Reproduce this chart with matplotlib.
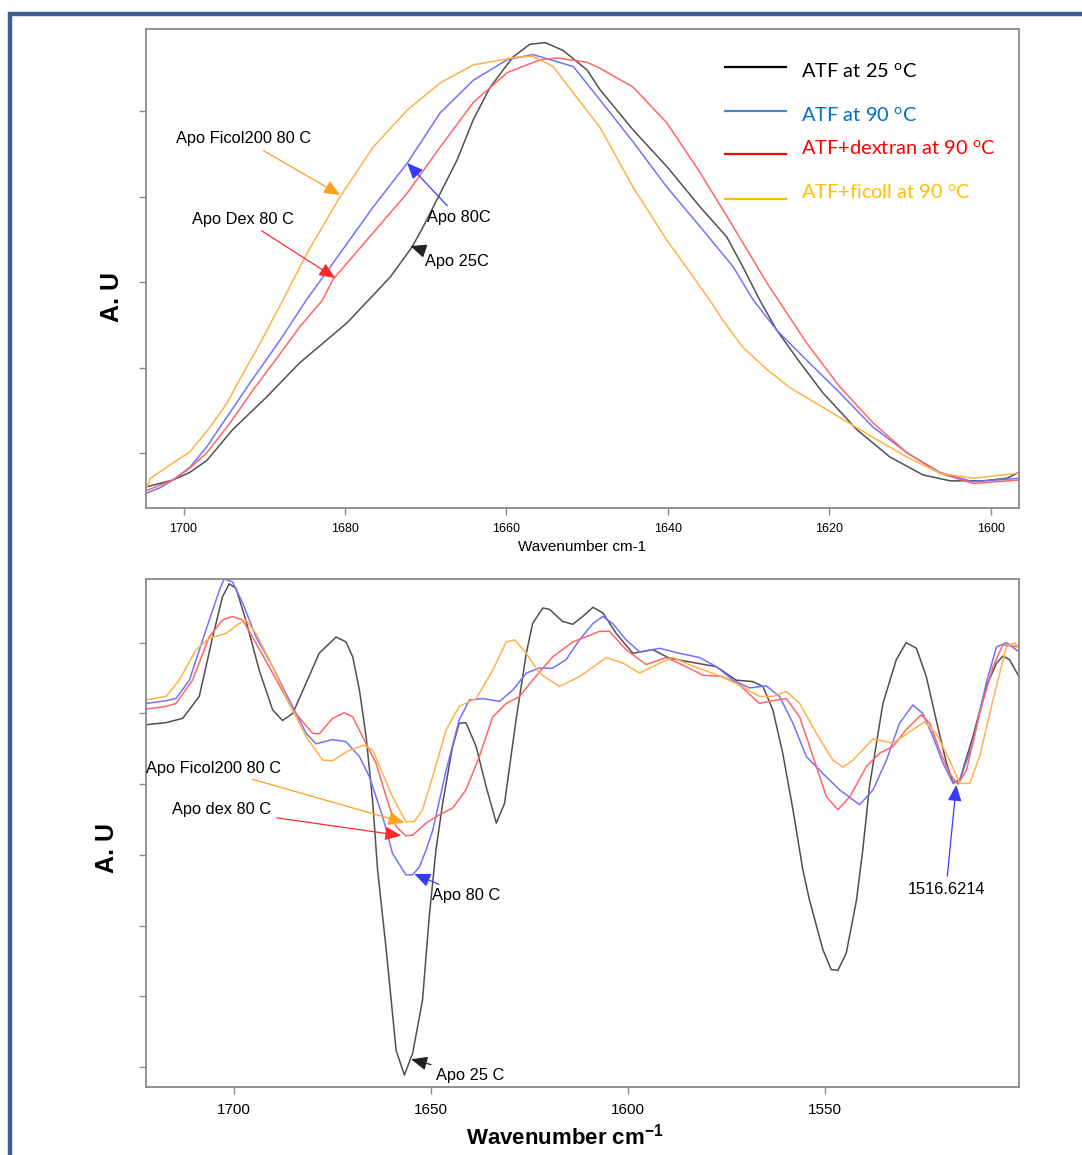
import matplotlib
matplotlib.use('Agg')
import matplotlib.pyplot as plt
from matplotlib.patches import Rectangle
from matplotlib.lines import Line2D

plt.rcParams['font.family'] = ['Liberation Sans', 'DejaVu Sans']
plt.rcParams['mathtext.fontset'] = 'custom'
plt.rcParams['mathtext.rm'] = 'Lato'
plt.rcParams['mathtext.bf'] = 'Liberation Sans:bold'

# ---------------- data: top panel (amide I, normalised absorbance) ----------------
top_wn_25 = [1704.6, 1701.3, 1699.2, 1697.1, 1693.9, 1689.7, 1685.6, 1682.2, 1679.7, 1677.1,
             1674.4, 1671.7, 1670.3, 1668.2, 1666.1, 1664.1, 1662.0, 1659.2, 1657.1, 1655.2,
             1653.0, 1650.0, 1648.4, 1644.3, 1640.1, 1636.0, 1632.7, 1630.7, 1628.6, 1626.5,
             1623.6, 1620.8, 1616.6, 1612.5, 1608.4, 1605.0, 1601.0, 1598.0, 1596.5]
top_au_25 = [-0.39, -0.31, -0.22, -0.08, 0.28, 0.66, 1.06, 1.33, 1.53, 1.79,
             2.06, 2.41, 2.65, 3.04, 3.43, 3.90, 4.28, 4.63, 4.78, 4.80,
             4.71, 4.48, 4.25, 3.78, 3.35, 2.88, 2.53, 2.18, 1.79, 1.44,
             1.06, 0.71, 0.28, -0.04, -0.25, -0.32, -0.32, -0.29, -0.22]

top_wn_90 = [1704.5, 1702.9, 1701.3, 1699.2, 1697.1, 1694.6, 1691.8, 1688.0, 1684.8, 1680.6,
             1676.5, 1672.3, 1668.2, 1664.1, 1659.9, 1656.7, 1651.7, 1648.4, 1644.3, 1640.1,
             1636.0, 1631.9, 1629.4, 1626.5, 1622.8, 1618.7, 1614.6, 1610.4, 1606.3, 1602.2, 1596.5]
top_au_90 = [-0.46, -0.40, -0.31, -0.16, 0.08, 0.43, 0.82, 1.33, 1.79, 2.34,
             2.88, 3.39, 3.98, 4.36, 4.60, 4.66, 4.52, 4.13, 3.64, 3.11,
             2.65, 2.18, 1.79, 1.44, 1.09, 0.71, 0.31, 0.01, -0.22, -0.33, -0.29]

top_wn_dex = [1704.5, 1701.3, 1699.2, 1697.1, 1694.2, 1691.4, 1688.0, 1685.6, 1682.8, 1681.5,
              1676.5, 1672.3, 1668.2, 1664.1, 1659.9, 1655.8, 1653.7, 1650.0, 1648.4, 1644.3,
              1640.1, 1636.0, 1631.9, 1627.7, 1626.3, 1622.8, 1618.7, 1614.6, 1610.4, 1606.3,
              1602.2, 1596.5]
top_au_dex = [-0.43, -0.31, -0.17, 0.01, 0.36, 0.74, 1.17, 1.48, 1.79, 2.03,
              2.58, 3.04, 3.58, 4.10, 4.45, 4.60, 4.62, 4.57, 4.50, 4.28,
              3.86, 3.28, 2.65, 1.99, 1.79, 1.29, 0.78, 0.36, 0.01, -0.23,
              -0.35, -0.31]

top_wn_fic = [1704.5, 1704.1, 1701.3, 1699.2, 1696.7, 1694.6, 1692.6, 1690.5, 1687.7, 1684.7,
              1680.6, 1676.5, 1672.3, 1668.2, 1664.1, 1658.7, 1656.7, 1654.2, 1651.7, 1648.4,
              1644.3, 1640.1, 1636.0, 1634.8, 1633.2, 1630.7, 1627.7, 1624.9, 1620.8, 1617.8,
              1614.6, 1610.4, 1606.3, 1602.2, 1596.5]
top_au_fic = [-0.39, -0.29, -0.11, 0.02, 0.31, 0.59, 0.94, 1.29, 1.79, 2.34,
              3.00, 3.58, 4.01, 4.33, 4.54, 4.63, 4.64, 4.52, 4.21, 3.81,
              3.11, 2.49, 1.95, 1.79, 1.56, 1.24, 0.98, 0.77, 0.54, 0.37,
              0.19, -0.04, -0.23, -0.29, -0.23]

# ---------------- data: bottom panel (second derivative) ----------------
bot_wn_25 = [1722.2, 1717.1, 1712.9, 1708.7, 1705.3, 1702.8, 1701.1, 1699.4, 1696.9, 1693.5,
             1690.1, 1687.6, 1685.0, 1681.6, 1678.3, 1674.0, 1671.5, 1669.8, 1668.1, 1666.4,
             1664.7, 1663.5, 1661.3, 1658.8, 1656.7, 1654.6, 1652.1, 1650.4, 1648.7, 1647.0,
             1644.5, 1642.8, 1641.1, 1638.5, 1636.0, 1633.4, 1631.3, 1628.4, 1625.8, 1624.2,
             1621.6, 1619.9, 1616.6, 1614.0, 1611.5, 1608.9, 1606.4, 1603.0, 1598.8, 1593.7,
             1589.5, 1583.6, 1577.6, 1572.6, 1568.4, 1565.8, 1563.3, 1560.8, 1558.2, 1555.7,
             1554.0, 1550.6, 1548.5, 1546.8, 1544.7, 1542.1, 1540.5, 1538.8, 1535.4, 1532.0,
             1529.5, 1526.9, 1524.4, 1521.9, 1519.3, 1517.6, 1515.9, 1512.6, 1509.2, 1506.6,
             1505.0, 1503.3, 1500.9]
bot_au_25 = [4.84, 4.87, 4.93, 5.24, 6.08, 6.65, 6.83, 6.77, 6.32, 5.61,
             5.05, 4.90, 5.00, 5.43, 5.85, 6.08, 6.01, 5.80, 5.33, 4.67,
             3.73, 2.79, 1.66, 0.24, -0.11, 0.20, 0.95, 2.13, 3.07, 3.73,
             4.53, 4.86, 4.87, 4.53, 3.97, 3.45, 3.73, 4.91, 5.85, 6.27,
             6.49, 6.47, 6.30, 6.26, 6.37, 6.50, 6.42, 6.13, 5.85, 5.90,
             5.78, 5.72, 5.66, 5.47, 5.45, 5.38, 5.05, 4.44, 3.64, 2.79,
             2.36, 1.66, 1.38, 1.37, 1.61, 2.36, 3.07, 3.97, 5.14, 5.76,
             6.00, 5.92, 5.52, 4.91, 4.30, 4.02, 4.06, 4.67, 5.38, 5.71,
             5.81, 5.76, 5.52]

bot_wn_90 = [1722.2, 1717.1, 1714.6, 1711.2, 1707.0, 1703.6, 1702.4, 1700.3, 1697.7, 1694.3,
             1690.1, 1685.9, 1681.6, 1679.1, 1674.9, 1671.5, 1668.1, 1665.6, 1662.2, 1659.7,
             1657.1, 1656.3, 1654.6, 1652.9, 1651.2, 1649.5, 1646.1, 1642.8, 1640.2, 1636.8,
             1632.6, 1629.2, 1625.8, 1622.5, 1619.1, 1615.7, 1612.3, 1608.9, 1606.4, 1603.9,
             1600.5, 1597.1, 1592.0, 1587.0, 1581.9, 1577.6, 1573.4, 1569.2, 1565.0, 1561.6,
             1558.2, 1554.8, 1550.6, 1546.4, 1541.3, 1537.9, 1534.5, 1531.2, 1527.8, 1525.3,
             1522.7, 1520.2, 1517.6, 1515.9, 1512.6, 1509.2, 1506.6, 1504.1, 1500.9]
bot_au_90 = [5.14, 5.18, 5.21, 5.47, 6.18, 6.74, 6.90, 6.86, 6.56, 6.08,
             5.66, 5.19, 4.72, 4.57, 4.63, 4.60, 4.39, 4.11, 3.54, 3.02,
             2.79, 2.72, 2.72, 2.83, 3.07, 3.35, 4.20, 4.91, 5.19, 5.21,
             5.17, 5.33, 5.57, 5.64, 5.64, 5.76, 6.04, 6.27, 6.37, 6.27,
             6.04, 5.87, 5.92, 5.85, 5.79, 5.66, 5.47, 5.36, 5.39, 5.24,
             4.86, 4.39, 4.15, 3.92, 3.71, 3.92, 4.34, 4.86, 5.12, 5.00,
             4.67, 4.30, 4.01, 4.06, 4.58, 5.43, 5.94, 6.00, 5.87]

bot_wn_dex = [1722.2, 1717.1, 1714.6, 1710.4, 1706.2, 1702.8, 1700.3, 1697.7, 1694.3, 1690.1,
              1685.0, 1680.0, 1678.3, 1674.9, 1671.9, 1669.8, 1667.3, 1663.9, 1661.3, 1658.8,
              1656.3, 1654.6, 1651.2, 1647.8, 1644.5, 1641.1, 1637.7, 1634.3, 1630.9, 1627.5,
              1624.2, 1619.1, 1614.0, 1607.2, 1604.7, 1600.5, 1595.4, 1590.3, 1585.3, 1581.0,
              1576.0, 1571.7, 1566.7, 1563.3, 1559.9, 1556.5, 1553.1, 1549.7, 1546.8, 1543.8,
              1539.6, 1536.2, 1532.9, 1529.5, 1525.7, 1523.5, 1521.0, 1518.5, 1516.4, 1514.2,
              1510.9, 1507.5, 1505.0, 1500.9]
bot_au_dex = [5.06, 5.10, 5.14, 5.47, 6.08, 6.32, 6.37, 6.32, 5.99, 5.57,
              5.05, 4.72, 4.71, 4.93, 5.01, 4.95, 4.67, 4.30, 3.82, 3.40,
              3.27, 3.28, 3.45, 3.57, 3.66, 3.92, 4.39, 4.95, 5.14, 5.24,
              5.47, 5.80, 6.01, 6.16, 6.16, 5.90, 5.69, 5.79, 5.66, 5.54,
              5.52, 5.40, 5.14, 5.18, 5.21, 4.95, 4.39, 3.82, 3.64, 3.82,
              4.25, 4.44, 4.53, 4.77, 4.98, 4.86, 4.48, 4.15, 4.00, 4.20,
              5.00, 5.66, 5.97, 5.94]

bot_wn_fic = [1722.2, 1717.1, 1713.8, 1709.5, 1706.2, 1701.9, 1698.6, 1696.9, 1694.3, 1690.1,
              1685.9, 1681.6, 1677.4, 1674.9, 1670.7, 1666.9, 1664.7, 1662.2, 1659.7, 1656.3,
              1654.2, 1652.1, 1649.5, 1646.1, 1642.8, 1638.5, 1634.3, 1630.9, 1628.8, 1625.8,
              1622.5, 1617.4, 1612.3, 1605.5, 1601.3, 1597.1, 1592.0, 1588.7, 1583.6, 1576.8,
              1571.7, 1566.7, 1563.3, 1559.9, 1556.5, 1552.3, 1548.1, 1545.5, 1543.0, 1537.9,
              1532.9, 1528.6, 1524.8, 1521.9, 1518.5, 1515.9, 1513.4, 1510.9, 1507.5, 1504.1,
              1502.0, 1500.9]
bot_au_fic = [5.19, 5.24, 5.47, 5.90, 6.06, 6.13, 6.27, 6.32, 6.13, 5.66,
              5.14, 4.67, 4.34, 4.33, 4.48, 4.55, 4.48, 4.15, 3.82, 3.47,
              3.47, 3.64, 4.11, 4.77, 5.10, 5.21, 5.61, 6.01, 6.04, 5.85,
              5.57, 5.38, 5.52, 5.79, 5.71, 5.57, 5.71, 5.79, 5.67, 5.53,
              5.40, 5.24, 5.24, 5.31, 5.14, 4.72, 4.34, 4.24, 4.34, 4.64,
              4.58, 4.74, 4.88, 4.72, 4.34, 4.01, 4.01, 4.39, 5.19, 5.94,
              6.00, 5.92]

top_xticks = [1700, 1680, 1660, 1640, 1620, 1600]
bot_xticks = [1700, 1650, 1600, 1550]
legend_labels = ['ATF at 25 $^{\\mathrm{o}}$C', 'ATF at 90 $^{\\mathrm{o}}$C',
                 'ATF+dextran at 90 $^{\\mathrm{o}}$C', 'ATF+ficoll at 90 $^{\\mathrm{o}}$C']

# ---------------- styles ----------------
C_BLACK = '#505050'
C_BLUE = '#7272FF'
C_RED = '#FF6666'
C_ORANGE = '#FFB24A'
SPINE = '#8A8A8A'

fig = plt.figure(figsize=(10.82, 11.55), dpi=100)
W, H = 1082, 1155

def axrect(l, t, r, b):
    return [l / W, 1 - b / H, (r - l) / W, (b - t) / H]

ax1 = fig.add_axes(axrect(146, 29, 1019, 508))
ax2 = fig.add_axes(axrect(146, 579.3, 1019, 1087.3))

lw = 1.1
ax1.plot(top_wn_25, top_au_25, color=C_BLACK, lw=lw)
ax1.plot(top_wn_90, top_au_90, color=C_BLUE, lw=lw)
ax1.plot(top_wn_dex, top_au_dex, color=C_RED, lw=lw)
ax1.plot(top_wn_fic, top_au_fic, color=C_ORANGE, lw=lw)

ax2.plot(bot_wn_25, bot_au_25, color=C_BLACK, lw=lw)
ax2.plot(bot_wn_90, bot_au_90, color=C_BLUE, lw=lw)
ax2.plot(bot_wn_dex, bot_au_dex, color=C_RED, lw=lw)
ax2.plot(bot_wn_fic, bot_au_fic, color=C_ORANGE, lw=lw)

ax1.set_xlim(1704.65, 1596.49)
ax1.set_ylim(-0.637, 4.959)
ax2.set_xlim(1722.2, 1500.9)
ax2.set_ylim(-0.283, 6.895)

ax1.set_xticks(top_xticks)
ax1.set_xticklabels([str(t) for t in top_xticks])
ax1.set_yticks([0, 1, 2, 3, 4])
ax2.set_xticks(bot_xticks)
ax2.set_xticklabels([str(t) for t in bot_xticks])
ax2.set_yticks([0, 1, 2, 3, 4, 5, 6])

for ax, fs in ((ax1, 9), (ax2, 11)):
    for s in ax.spines.values():
        s.set_color(SPINE)
        s.set_linewidth(1.3)
    ax.tick_params(axis='both', direction='out', length=5, width=1.0, color=SPINE,
                   labelsize=fs, pad=6)
    ax.set_yticklabels([])

# axis labels
fig.text(112 / W, 1 - 297 / H, 'A. U', rotation=90, ha='center', va='center',
         fontsize=18, fontweight='bold')
fig.text(107 / W, 1 - 848 / H, 'A. U', rotation=90, ha='center', va='center',
         fontsize=18, fontweight='bold')
fig.text(582 / W, 1 - 547 / H, 'Wavenumber cm-1', ha='center', va='center', fontsize=11)
fig.text(565 / W, 1 - 1137 / H, 'Wavenumber cm$^{\\mathbf{-1}}$', ha='center', va='center',
         fontsize=16, fontweight='bold')

# legend (top panel)
leg_line_y = [0.920, 0.829, 0.738, 0.645]
leg_text_y = [0.911, 0.820, 0.751, 0.659]
leg_line_c = ['black', '#4F81BD', '#FF0000', '#FFC000']
leg_text_c = ['black', '#0070C0', '#FF0000', '#FFC000']
for ly, ty, lc, tc, lab in zip(leg_line_y, leg_text_y, leg_line_c, leg_text_c, legend_labels):
    ax1.add_line(Line2D([0.663, 0.733], [ly, ly], transform=ax1.transAxes, color=lc, lw=1.6))
    ax1.text(0.750, ty, lab, transform=ax1.transAxes, ha='left', va='center',
             fontsize=14.4, color=tc, family=['Lato', 'DejaVu Sans'])

def note(ax, text, xy, xytext, color, tcolor='black', ha='center'):
    ax.annotate(text, xy=xy, xytext=xytext, ha=ha, va='center', fontsize=11.8, color=tcolor,
                arrowprops=dict(arrowstyle='-|>,head_length=0.7,head_width=0.3',
                                color=color, lw=0.9, mutation_scale=14,
                                shrinkA=2, shrinkB=0))

# top annotations
note(ax1, 'Apo Ficol200 80 C', (1680.6, 3.02), (1692.6, 3.674), '#FFA020')
note(ax1, 'Apo Dex 80 C', (1681.2, 2.05), (1692.6, 2.739), '#FF2A2A')
note(ax1, 'Apo 80C', (1672.3, 3.394), (1665.9, 2.751), '#3A3AFF')
note(ax1, 'Apo 25C', (1671.9, 2.424), (1666.1, 2.237), '#222222')

# bottom annotations
note(ax2, 'Apo Ficol200 80 C', (1656.7, 3.456), (1722.1, 4.225), '#FFA020', ha='left')
note(ax2, 'Apo dex 80 C', (1657.5, 3.273), (1715.6, 3.636), '#FF2A2A', ha='left')
note(ax2, 'Apo 80 C', (1654.2, 2.731), (1641.1, 2.425), '#3A3AFF')
note(ax2, 'Apo 25 C', (1655.0, 0.113), (1639.9, -0.113), '#222222')
note(ax2, '1516.6214', (1516.8, 3.989), (1519.4, 2.515), '#3A3AFF')

# page frame
fig.patches.append(Rectangle((10 / W, -0.1), 1.2, 1.1 - 14 / H, transform=fig.transFigure,
                             fill=False, edgecolor='#3C5F8C', lw=3.2, clip_on=False))

fig.savefig('out.png', dpi=100)
